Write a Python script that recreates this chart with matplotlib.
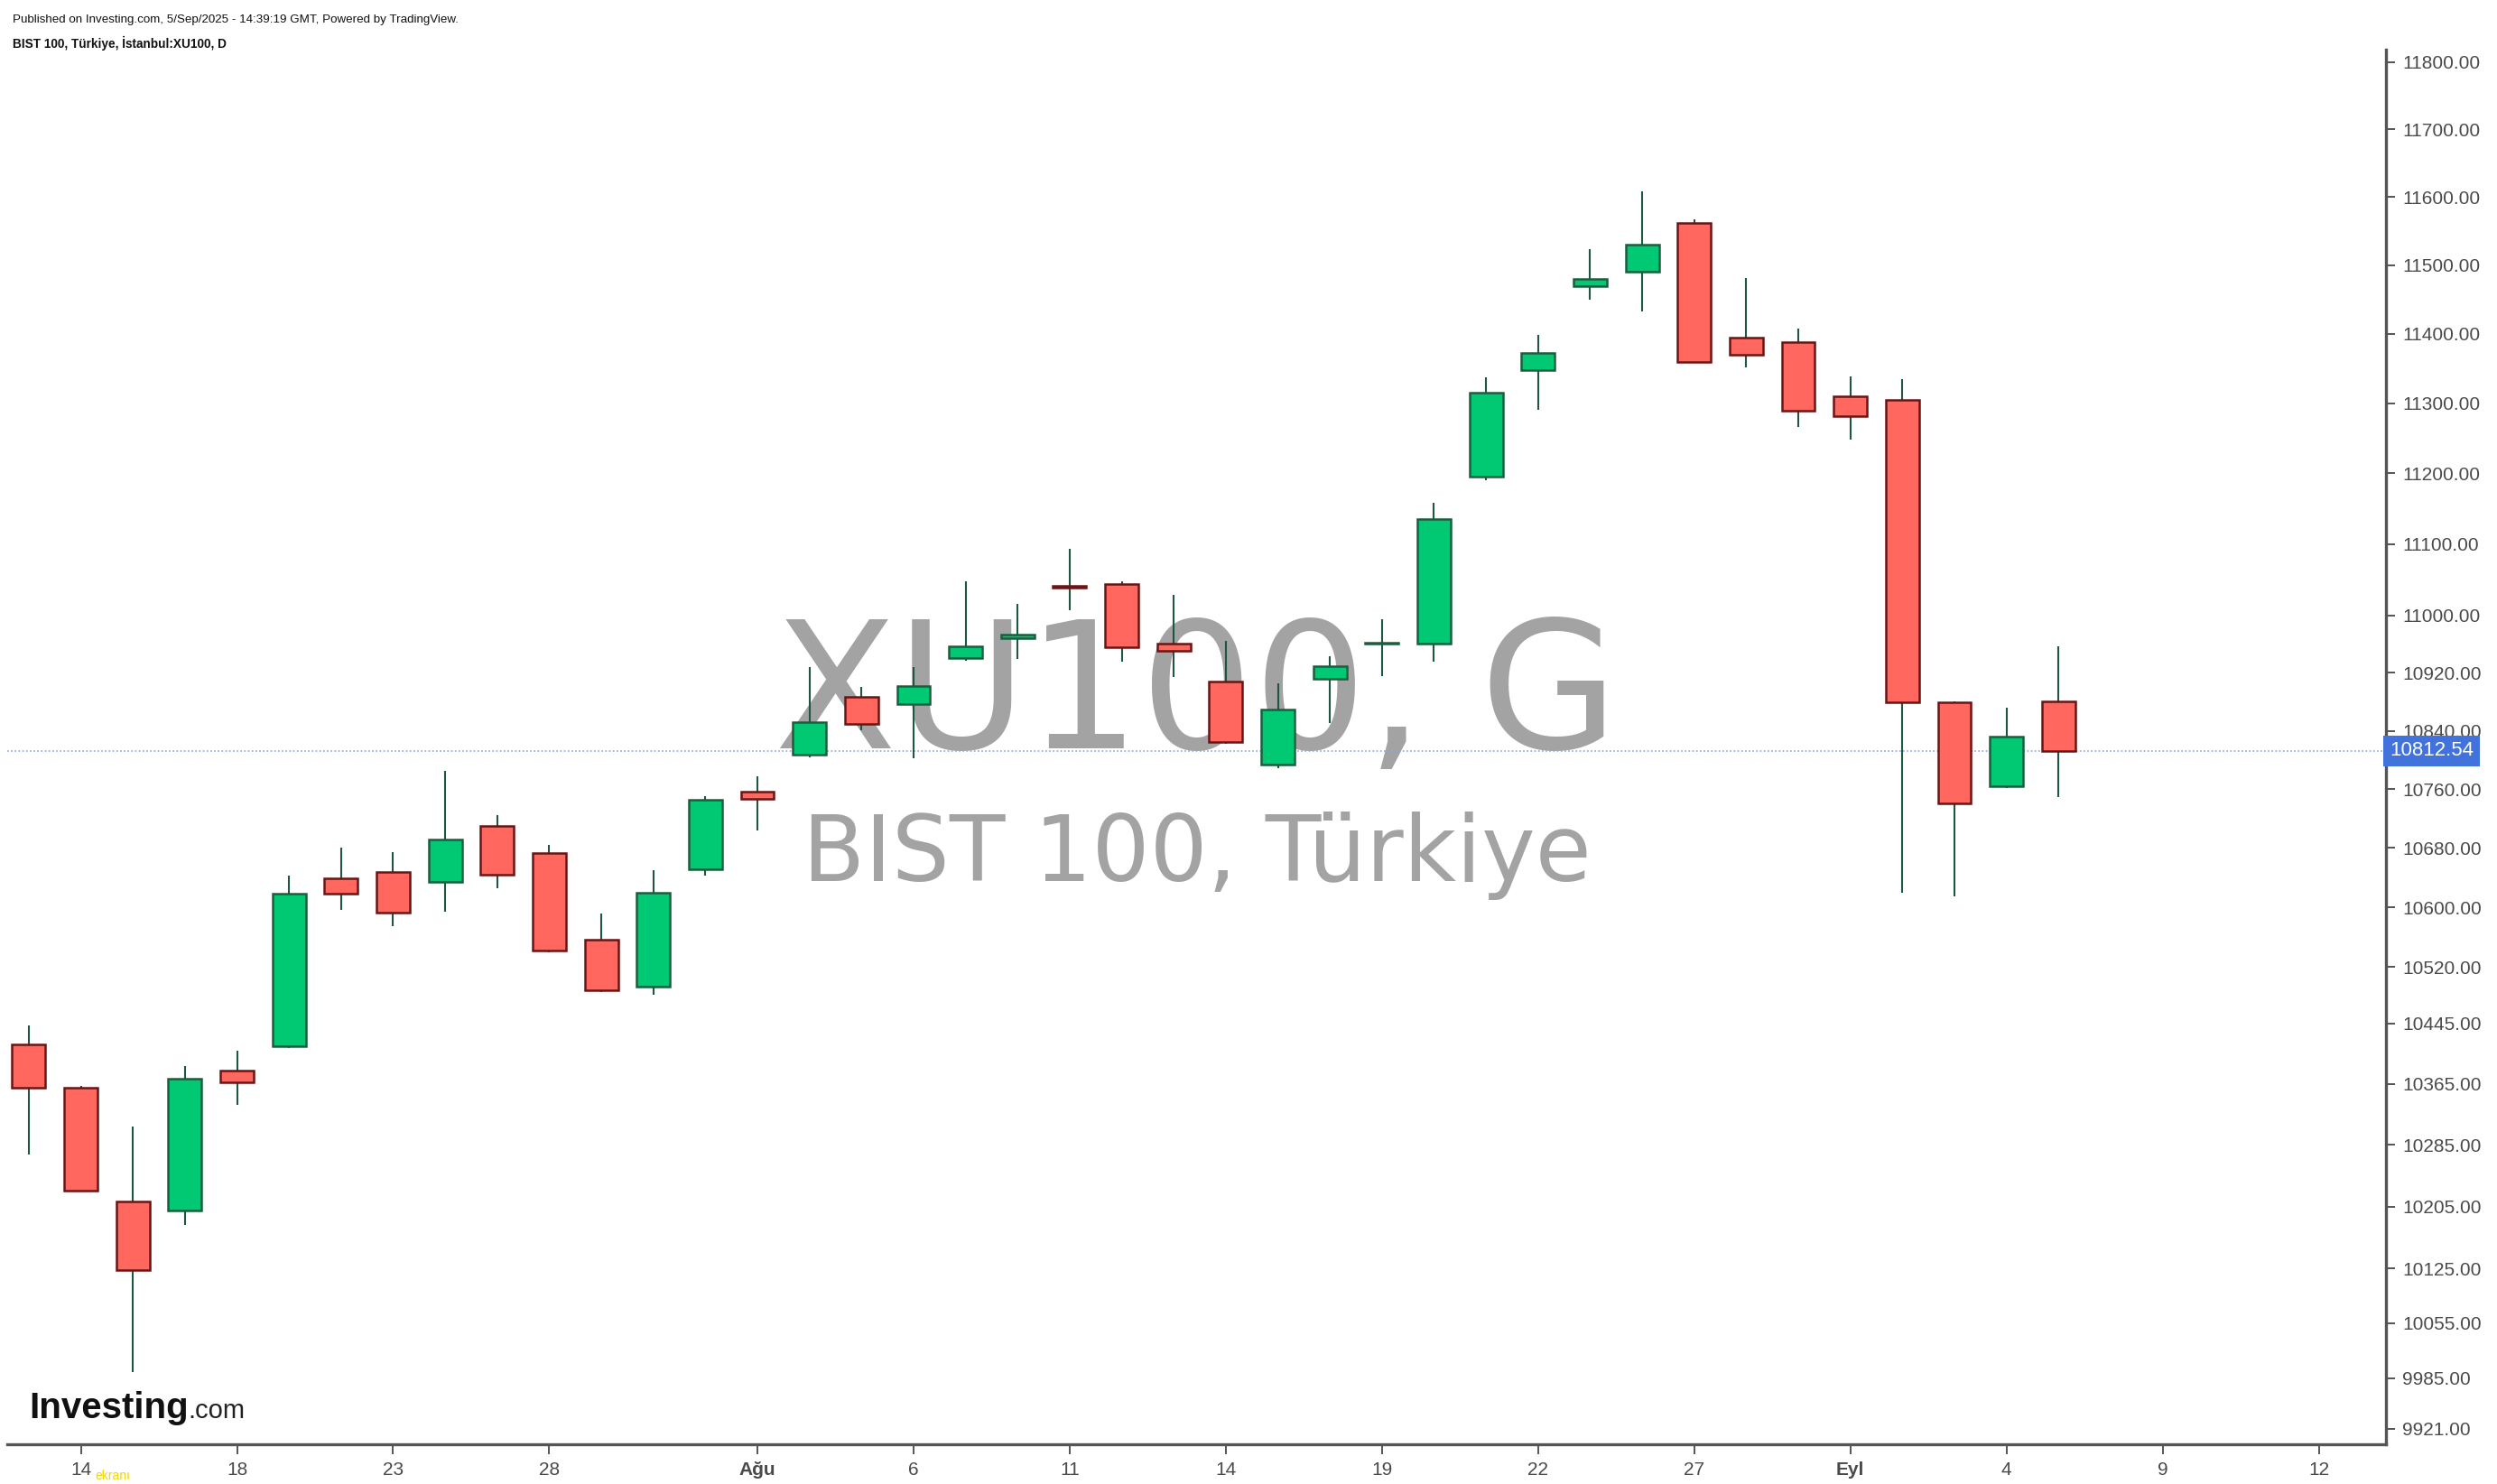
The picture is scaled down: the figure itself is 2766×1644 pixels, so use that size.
import matplotlib
matplotlib.use("Agg")
import matplotlib.pyplot as plt
from matplotlib.ticker import FixedLocator, NullLocator
import numpy as np

# daily candles, XU100, 11 Jul - 5 Sep 2025 (15 Jul holiday skipped)
dates = ["2025-07-11", "2025-07-14", "2025-07-16", "2025-07-17", "2025-07-18",
         "2025-07-21", "2025-07-22", "2025-07-23", "2025-07-24", "2025-07-25",
         "2025-07-28", "2025-07-29", "2025-07-30", "2025-07-31", "2025-08-01",
         "2025-08-04", "2025-08-05", "2025-08-06", "2025-08-07", "2025-08-08",
         "2025-08-11", "2025-08-12", "2025-08-13", "2025-08-14", "2025-08-15",
         "2025-08-18", "2025-08-19", "2025-08-20", "2025-08-21", "2025-08-22",
         "2025-08-25", "2025-08-26", "2025-08-27", "2025-08-28", "2025-08-29",
         "2025-09-01", "2025-09-02", "2025-09-03", "2025-09-04", "2025-09-05"]
opens = [10417, 10360, 10212, 10200, 10382, 10415, 10639, 10647, 10634, 10710,
         10673, 10557, 10494, 10651, 10757, 10807, 10887, 10877, 10940, 10968,
         11041, 11044, 10960, 10908, 10794, 10912, 10960, 10961, 11196, 11348,
         11469, 11490, 11562, 11394, 11388, 11310, 11305, 10879, 10764, 10881]
highs = [10442, 10362, 10309, 10389, 10409, 10643, 10681, 10674, 10785, 10725,
         10684, 10591, 10650, 10750, 10777, 10928, 10901, 10928, 11047, 11016,
         11093, 11047, 11029, 10964, 10906, 10943, 10994, 11158, 11337, 11399,
         11523, 11608, 11567, 11481, 11408, 11338, 11335, 10881, 10872, 10957]
lows = [10272, 10224, 9993, 10181, 10338, 10412, 10597, 10575, 10594, 10626,
        10540, 10486, 10483, 10643, 10704, 10804, 10841, 10802, 10937, 10939,
        11007, 10936, 10914, 10822, 10789, 10851, 10915, 10936, 11190, 11291,
        11450, 11432, 11358, 11351, 11266, 11248, 10620, 10615, 10762, 10749]
closes = [10360, 10226, 10123, 10372, 10367, 10618, 10618, 10593, 10691, 10644,
          10542, 10489, 10620, 10745, 10747, 10852, 10850, 10902, 10957, 10973,
          11039, 10955, 10950, 10825, 10869, 10929, 10962, 11135, 11315, 11372,
          11480, 11530, 11360, 11370, 11289, 11282, 10879, 10740, 10832, 10812.54]
last_price = 10812.54

# x axis labels (bar index -> label), future days continue the business-day count
tick_idx = [1, 4, 7, 10, 14, 17, 20, 23, 26, 29, 32, 35, 38, 41, 44]
tick_labels = ["14", "18", "23", "28", "Ağu", "6", "11", "14", "19", "22", "27",
               "Eyl", "4", "9", "12"]
bold_labels = ["Ağu", "Eyl"]
price_ticks = [11800, 11700, 11600, 11500, 11400, 11300, 11200, 11100, 11000,
               10920, 10840, 10760, 10680, 10600, 10520, 10445, 10365, 10285,
               10205, 10125, 10055, 9985, 9921]

up_fill, up_edge = "#00c873", "#1b5e3e"
dn_fill, dn_edge = "#ff675f", "#6a1515"
wick_col = "#1e5640"
axis_col = "#555555"

plt.rcParams["font.family"] = ["Liberation Sans", "DejaVu Sans"]

fig = plt.figure(figsize=(27.66, 16.44), dpi=100)
ax = fig.add_axes([0.003, 0.0268, 0.9525, 0.9397])

o = np.array(opens, dtype=float)
h = np.array(highs, dtype=float)
l = np.array(lows, dtype=float)
c = np.array(closes, dtype=float)
x = np.arange(len(dates))
up = c >= o

ax.vlines(x, l, h, color=wick_col, lw=1.5, zorder=3)
body_lo = np.minimum(o, c)
body_hi = np.maximum(o, c)
body_hi = np.maximum(body_hi, body_lo + 1.5)
ax.bar(x[up], (body_hi - body_lo)[up], bottom=body_lo[up], width=0.64,
       color=up_fill, edgecolor=up_edge, linewidth=1.8, zorder=4)
ax.bar(x[~up], (body_hi - body_lo)[~up], bottom=body_lo[~up], width=0.64,
       color=dn_fill, edgecolor=dn_edge, linewidth=1.8, zorder=4)

ax.set_yscale("log")
ax.set_ylim(9901.7, 11818.6)
ax.set_xlim(-0.41, 45.29)

# last price line
ax.axhline(last_price, color="#8fa6e0", lw=1.2, ls=(0, (1, 1.5)), zorder=2)

# watermark
ax.text(0.5, 0.534, "XU100, G", transform=ax.transAxes, ha="center",
        va="center", fontsize=142, color="#a3a3a3", family="DejaVu Sans",
        zorder=1)
ax.text(0.5, 0.422, "BIST 100, Türkiye", transform=ax.transAxes,
        ha="center", va="center", fontsize=72.5, color="#a3a3a3",
        family="DejaVu Sans", zorder=1)

# axes styling
for s in ["top", "left"]:
    ax.spines[s].set_visible(False)
for s in ["right", "bottom"]:
    ax.spines[s].set_color(axis_col)
    ax.spines[s].set_linewidth(2.4)

ax.yaxis.tick_right()
ax.yaxis.set_major_locator(FixedLocator(price_ticks))
ax.yaxis.set_minor_locator(NullLocator())
ax.set_yticklabels([f"{v:.2f}" for v in price_ticks])
ax.tick_params(axis="y", which="major", length=7, width=1.4, color=axis_col,
               labelsize=15, labelcolor="#4a4a4a", pad=6)

ax.set_xticks(tick_idx)
ax.set_xticklabels(tick_labels)
ax.tick_params(axis="x", length=8, width=1.4, color=axis_col, labelsize=15,
               labelcolor="#4a4a4a", pad=6)
for t in ax.get_xticklabels():
    if t.get_text() in bold_labels:
        t.set_fontweight("bold")

# last price tag on the price axis
ax.annotate(f"{last_price:.2f}", xy=(1.0, last_price),
            xycoords=("axes fraction", "data"), xytext=(3, 0),
            textcoords="offset points", ha="left", va="center", fontsize=16,
            color="white",
            bbox=dict(boxstyle="square,pad=0.3", fc="#4272dc", ec="none"),
            zorder=6, annotation_clip=False)

# header
fig.text(0.005, 0.9905, "Published on Investing.com, 5/Sep/2025 - 14:39:19 GMT, "
         "Powered by TradingView.", ha="left", va="top", fontsize=9.6,
         color="#111111")
fig.text(0.005, 0.976, "BIST 100, Türkiye, İstanbul:XU100, D", ha="left",
         va="top", fontsize=9.8, fontweight="bold", color="#111111")

# logo
fig.text(0.0115, 0.0445, "Investing", ha="left", va="baseline", fontsize=29,
         fontweight="bold", color="#111111")
fig.text(0.0752, 0.0445, ".com", ha="left", va="baseline", fontsize=21,
         color="#222222")
fig.text(0.038, 0.001, "ekranı", ha="left", va="bottom", fontsize=10,
         color="#f2d600")

fig.savefig("out.png", dpi=100, facecolor="white")
